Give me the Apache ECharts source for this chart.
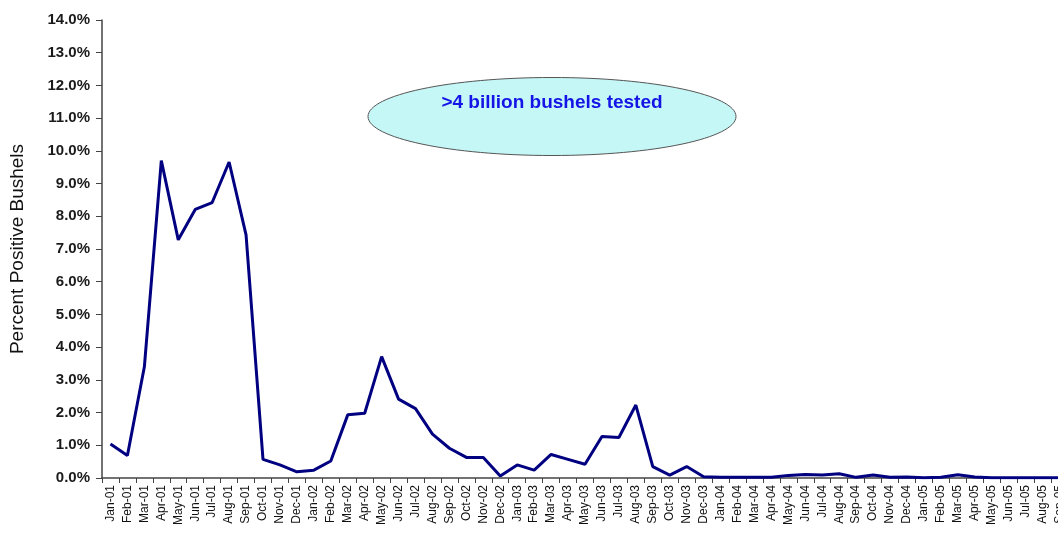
<!DOCTYPE html>
<html>
<head>
<meta charset="utf-8">
<script src="https://cdn.jsdelivr.net/npm/echarts@6/dist/echarts.min.js"></script>
<style>
html,body{margin:0;padding:0;background:#fff;}
#chart{width:1058px;height:534px;}
</style>
</head>
<body>
<div id="chart"></div>
<script>
const months = [
 'Jan-01','Feb-01','Mar-01','Apr-01','May-01','Jun-01','Jul-01','Aug-01','Sep-01','Oct-01','Nov-01','Dec-01',
 'Jan-02','Feb-02','Mar-02','Apr-02','May-02','Jun-02','Jul-02','Aug-02','Sep-02','Oct-02','Nov-02','Dec-02',
 'Jan-03','Feb-03','Mar-03','Apr-03','May-03','Jun-03','Jul-03','Aug-03','Sep-03','Oct-03','Nov-03','Dec-03',
 'Jan-04','Feb-04','Mar-04','Apr-04','May-04','Jun-04','Jul-04','Aug-04','Sep-04','Oct-04','Nov-04','Dec-04',
 'Jan-05','Feb-05','Mar-05','Apr-05','May-05','Jun-05','Jul-05','Aug-05','Sep-05'
];
const percentPositive = [
 1.04,0.69,3.40,9.70,7.28,8.21,8.42,9.66,7.43,0.57,0.40,0.19,
 0.24,0.52,1.93,1.98,3.71,2.41,2.12,1.34,0.91,0.63,0.63,0.06,
 0.40,0.24,0.72,0.57,0.42,1.27,1.24,2.23,0.35,0.09,0.35,0.04,
 0.02,0.02,0.02,0.02,0.08,0.11,0.09,0.13,0.02,0.09,0.02,0.03,
 0.01,0.02,0.10,0.03,0.01,0.01,0.01,0.01,0.01
];
const yTitle = 'Percent Positive Bushels';
const noteText = '>4 billion bushels tested';

const chart = echarts.init(document.getElementById('chart'), null, {renderer:'canvas'});
chart.setOption({
  animation:false,
  backgroundColor:'#ffffff',
  grid:{left:102, top:20, bottom:56, width:966, containLabel:false, outerBoundsMode:'none'},
  xAxis:{
    type:'category',
    data:months,
    boundaryGap:true,
    axisLine:{lineStyle:{color:'#444', width:1.5}},
    axisTick:{show:true, alignWithLabel:false, interval:0, length:5, lineStyle:{color:'#444'}},
    axisLabel:{interval:0, rotate:90, fontFamily:'Liberation Sans, Arial', fontSize:12, color:'#111', margin:7}
  },
  yAxis:{
    type:'value',
    min:0, max:14, interval:1,
    name:yTitle,
    nameLocation:'middle',
    nameGap:75,
    nameTextStyle:{fontFamily:'Liberation Sans, Arial', fontSize:19, fontWeight:'normal', color:'#111'},
    axisLine:{show:true, lineStyle:{color:'#444', width:1.5}},
    axisTick:{show:true, length:6, lineStyle:{color:'#444'}},
    splitLine:{show:false},
    axisLabel:{formatter:v=>v.toFixed(1)+'%', fontFamily:'Liberation Sans, Arial', fontSize:15, fontWeight:'bold', color:'#1a1a1a', margin:12}
  },
  series:[{
    type:'line',
    data:percentPositive,
    symbol:'none',
    lineStyle:{color:'#000080', width:3},
    itemStyle:{color:'#000080'}
  }],
  graphic:[
    {type:'ellipse', shape:{cx:552, cy:116.5, rx:184, ry:39}, style:{fill:'#c6f7f7', stroke:'#555', lineWidth:1}, z:10},
    {type:'text', x:552, y:103, style:{text:noteText, fill:'#1414e6', font:'bold 19px "Liberation Sans", Arial', textAlign:'center', textVerticalAlign:'middle'}, z:11}
  ]
});
</script>
</body>
</html>
